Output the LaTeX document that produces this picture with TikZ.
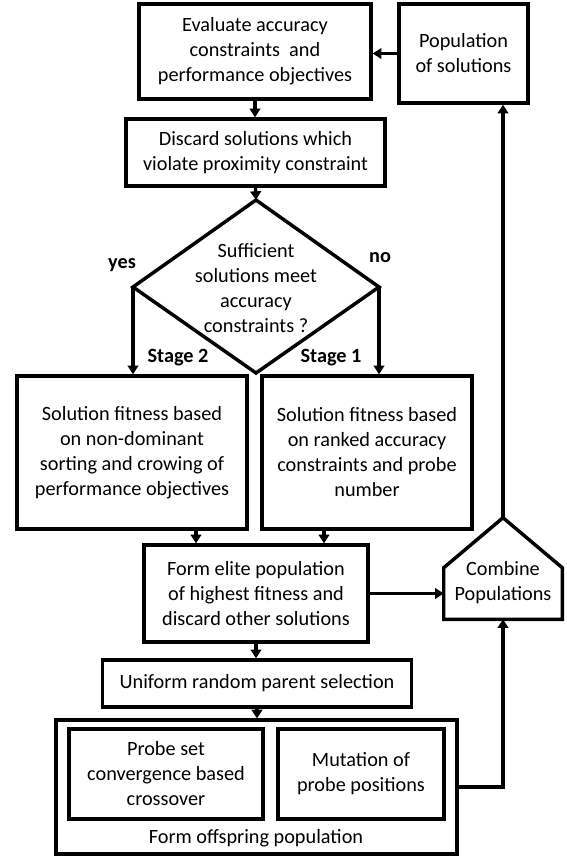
\documentclass[tikz,border=0pt]{standalone}
\usepackage{fontspec}
\setmainfont{Carlito}
\usetikzlibrary{arrows.meta}
\begin{document}
\begin{tikzpicture}[x=0.75pt,y=-0.75pt,
  box/.style={draw,line width=2.6pt,rectangle,align=center,inner sep=0pt,font=\fontsize{15.2}{18.75}\selectfont},
  txt/.style={align=center,inner sep=0pt,font=\fontsize{15.2}{18.75}\selectfont},
  lbl/.style={inner sep=0pt,font=\fontsize{15.2}{18}\selectfont\bfseries},
  arr/.style={line width=2.5pt,-{Triangle[length=6.5pt,width=8pt]}},
  ln/.style={line width=2.6pt,line join=miter}]
\useasboundingbox (0,0) rectangle (567,856);
% nodes
\node[box,minimum width=174pt,minimum height=71.25pt] (eval) at (255,51.5) {Evaluate accuracy\\constraints\ \ and\\performance objectives};
\node[box,minimum width=96.75pt,minimum height=74.25pt] (pop) at (463.5,53.5) {Population\\of solutions};
\node[box,minimum width=194.25pt,minimum height=50.25pt] (disc) at (255.5,152.5) {Discard solutions which\\violate proximity constraint};
% diamond
\coordinate (dt) at (256,200);
\coordinate (dl) at (133,287);
\coordinate (dr) at (379,287);
\coordinate (db) at (256,373);
\draw[ln] (dt) -- (dr) -- (db) -- (dl) -- cycle;
\node[txt] (dtxt) at (256,288) {Sufficient\\solutions meet\\accuracy\\constraints ?};
\node[lbl] (yes) at (122,265) {yes};
\node[lbl] (no) at (380,258) {no};
\node[lbl] (st2) at (178,358) {Stage 2};
\node[lbl] (st1) at (331,358) {Stage 1};
\node[box,minimum width=172.5pt,minimum height=114.75pt] (left) at (132,452.5) {Solution fitness based\\on non-dominant\\sorting and crowing of\\performance objectives};
\node[box,minimum width=157.5pt,minimum height=114.75pt] (right) at (367,452.5) {Solution fitness based\\on ranked accuracy\\constraints and probe\\number};
\node[box,minimum width=168pt,minimum height=72.75pt] (elite) at (256,593.5) {Form elite population\\of highest fitness and\\discard other solutions};
% combine
\node[minimum width=88.5pt,minimum height=75.75pt,inner sep=0pt] (cb) at (503,568.5) {};
\draw[ln] (cb.south west) -- ([yshift=-37.5pt]cb.north west) -- (cb.north) -- ([yshift=-37.5pt]cb.north east) -- (cb.south east) -- cycle;
\node[txt] (cbtxt) at (503,582.5) {Combine\\Populations};
\node[box,minimum width=231.75pt,minimum height=35.25pt] (uni) at (257,683.5) {Uniform random parent selection};
\node[box,line width=2.4pt,minimum width=300.75pt,minimum height=100.5pt] (off) at (256.5,787) {};
\node[box,minimum width=145.5pt,minimum height=67.5pt] (probe) at (166,774) {Probe set\\convergence based\\crossover};
\node[box,minimum width=124.5pt,minimum height=67.5pt] (mut) at (361,774) {Mutation of\\probe positions};
\node[txt] (offtxt) at (256,838) {Form offspring population};
% connectors
\draw[arr] (pop.west) -- (pop.west -| eval.east);
\draw[arr] (eval.south) -- (eval.south |- disc.north);
\draw[arr] (disc.south) -- (dt);
\draw[arr] (dl) -- (dl |- left.north);
\draw[arr] (dr) -- (dr |- right.north);
\draw[arr] ([xshift=48pt]left.south) -- ([xshift=48pt]left.south |- elite.north);
\draw[arr] ([xshift=-32.25pt]right.south) -- ([xshift=-32.25pt]right.south |- elite.north);
\draw[arr] (elite.east) -- (elite.east -| cb.west);
\draw[arr] (cb.north) -- (cb.north |- pop.south);
\draw[arr] (elite.south) -- (elite.south |- uni.north);
\draw[arr] (uni.south) -- (uni.south |- off.north);
\draw[arr] (off.east) -- (off.east -| cb.south) -- (cb.south);
\end{tikzpicture}
\end{document}
